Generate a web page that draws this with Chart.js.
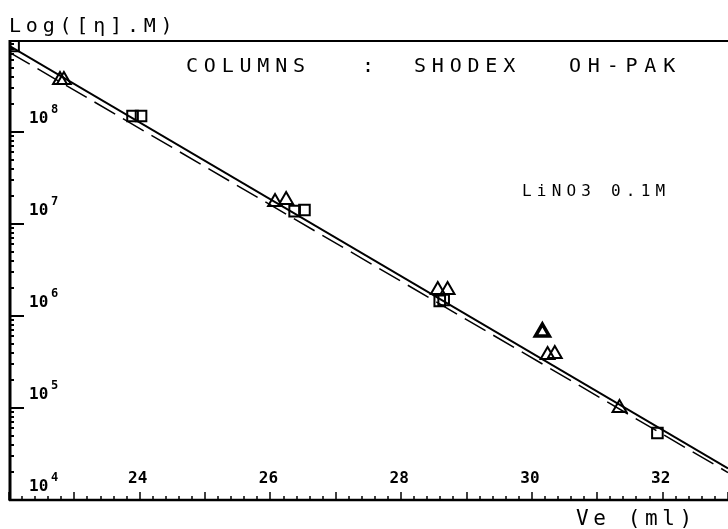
<!DOCTYPE html>
<html lang="en">
<head>
<meta charset="UTF-8">
<title>Shodex OH-PAK calibration</title>
<script src="https://cdn.jsdelivr.net/npm/chart.js"></script>
<style>
  body { margin: 0; background: #fff; }
  #wrap { width: 728px; height: 529px; }
</style>
</head>
<body>
<div id="wrap"><canvas id="calChart" width="728" height="529"></canvas></div>
<script>
// values: elution volume (ml) and [n].M
const triangleVe = [22.78, 22.84, 26.07, 26.24, 28.56, 28.71, 30.16, 30.24, 30.35, 31.34];
const triangleM  = [3.67e8, 3.67e8, 1.73e7, 1.82e7, 1.92e6, 1.92e6, 6.7e5, 3.77e5, 3.86e5, 1.0e5];
const squareVe = [22.07, 23.89, 24.02, 26.37, 26.52, 28.59, 28.65, 31.92];
const squareM  = [8.6e8, 1.49e8, 1.49e8, 1.38e7, 1.42e7, 1.46e6, 1.49e6, 5.35e4];
const solidVe = [22.0, 33.0];
const solidM  = [8.7e8, 2.2e4];
const dashedVe = [22.0, 33.0];
const dashedM  = [7.4e8, 1.99e4];

const xTickLabels = [24, 26, 28, 30, 32];
const yDecades = [4, 5, 6, 7, 8];

const toPoints = (xs, ys) => xs.map((x, i) => ({ x: x, y: ys[i] }));

const monoFont = '"DejaVu Sans Mono", monospace';

// axes, ticks and all the text, drawn by hand in the old plotter style
const plotterAxes = {
  id: 'plotterAxes',
  afterDatasetsDraw(chart) {
    const ctx = chart.ctx;
    const area = chart.chartArea;
    const xs = chart.scales.x;
    const ys = chart.scales.y;
    ctx.save();
    ctx.strokeStyle = '#000';
    ctx.fillStyle = '#000';
    ctx.lineCap = 'butt';

    // frame: top, left, bottom
    ctx.lineWidth = 2;
    ctx.beginPath();
    ctx.moveTo(area.left, area.top + 1);
    ctx.lineTo(area.right, area.top + 1);
    ctx.stroke();
    ctx.lineWidth = 3;
    ctx.beginPath();
    ctx.moveTo(area.left + 1, area.top);
    ctx.lineTo(area.left + 1, area.bottom + 1);
    ctx.stroke();
    ctx.lineWidth = 2.5;
    ctx.beginPath();
    ctx.moveTo(area.left, area.bottom);
    ctx.lineTo(area.right, area.bottom);
    ctx.stroke();

    // y ticks (log), pointing inward
    ctx.lineWidth = 2;
    for (let d = 4; d < 9; d++) {
      for (let m = 1; m <= 9; m++) {
        const py = Math.round(ys.getPixelForValue(m * Math.pow(10, d)));
        const len = m === 1 ? 15 : 5;
        ctx.beginPath();
        ctx.moveTo(area.left, py);
        ctx.lineTo(area.left + len, py);
        ctx.stroke();
      }
    }

    // x ticks every 0.2 ml, pointing up
    ctx.lineWidth = 1.5;
    for (let i = 22 * 5; i <= 33 * 5; i++) {
      const px = Math.round(xs.getPixelForValue(i / 5));
      const len = i % 5 === 0 ? 8 : 4;
      ctx.beginPath();
      ctx.moveTo(px, area.bottom);
      ctx.lineTo(px, area.bottom - len);
      ctx.stroke();
    }

    // x tick labels sit inside the plot
    ctx.font = 'bold 16px ' + monoFont;
    ctx.textAlign = 'center';
    ctx.textBaseline = 'alphabetic';
    xTickLabels.forEach(v => {
      ctx.fillText(String(v), xs.getPixelForValue(v) - 2, area.bottom - 17);
    });

    // y labels 10^n
    ctx.textAlign = 'left';
    yDecades.forEach(d => {
      const py = ys.getPixelForValue(Math.pow(10, d));
      ctx.font = 'bold 16px ' + monoFont;
      ctx.fillText('10', 29, py - 9);
      ctx.font = 'bold 12px ' + monoFont;
      ctx.fillText(String(d), 51, py - 19);
    });

    // axis titles
    ctx.font = '20px ' + monoFont;
    ctx.letterSpacing = '4.8px';
    ctx.fillText('Log([η].M)', 9, 32);
    ctx.font = '21px ' + monoFont;
    ctx.letterSpacing = '4.6px';
    ctx.fillText('Ve (ml)', 576, 525);

    // annotations
    ctx.font = '20px ' + monoFont;
    ctx.letterSpacing = '5.8px';
    ctx.fillText('COLUMNS', 186, 72);
    ctx.fillText(':', 362, 72);
    ctx.fillText('SHODEX', 414, 72);
    ctx.letterSpacing = '6.8px';
    ctx.fillText('OH-PAK', 569, 72);
    ctx.font = '16px ' + monoFont;
    ctx.letterSpacing = '5.2px';
    ctx.fillText('LiNO3 0.1M', 522, 196);

    ctx.restore();
  }
};

const ctx = document.getElementById('calChart').getContext('2d');
new Chart(ctx, {
  type: 'scatter',
  data: {
    datasets: [
      {
        label: 'triangles',
        data: toPoints(triangleVe, triangleM),
        pointStyle: 'triangle',
        pointRadius: 8,
        pointBorderColor: '#000',
        pointBackgroundColor: 'rgba(0,0,0,0)',
        pointBorderWidth: c => c.dataIndex === 6 ? 3.5 : 2,
        order: 0
      },
      {
        label: 'squares',
        data: toPoints(squareVe, squareM),
        pointStyle: 'rect',
        pointRadius: 7.5,
        pointBorderColor: '#000',
        pointBackgroundColor: 'rgba(0,0,0,0)',
        pointBorderWidth: 2,
        order: 0
      },
      {
        label: 'fit',
        type: 'line',
        data: toPoints(solidVe, solidM),
        borderColor: '#000',
        borderWidth: 2,
        pointRadius: 0,
        order: 1
      },
      {
        label: 'fit 2',
        type: 'line',
        data: toPoints(dashedVe, dashedM),
        borderColor: '#000',
        borderWidth: 1.5,
        borderDash: [24, 9],
        pointRadius: 0,
        order: 1
      }
    ]
  },
  options: {
    responsive: false,
    animation: false,
    layout: { autoPadding: false, padding: { left: 9, top: 40, right: 0, bottom: 29 } },
    plugins: {
      legend: { display: false },
      tooltip: { enabled: false }
    },
    scales: {
      x: { type: 'linear', min: 22, max: 33, display: false },
      y: { type: 'logarithmic', min: 1e4, max: 1e9, display: false }
    }
  },
  plugins: [plotterAxes]
});
</script>
</body>
</html>
